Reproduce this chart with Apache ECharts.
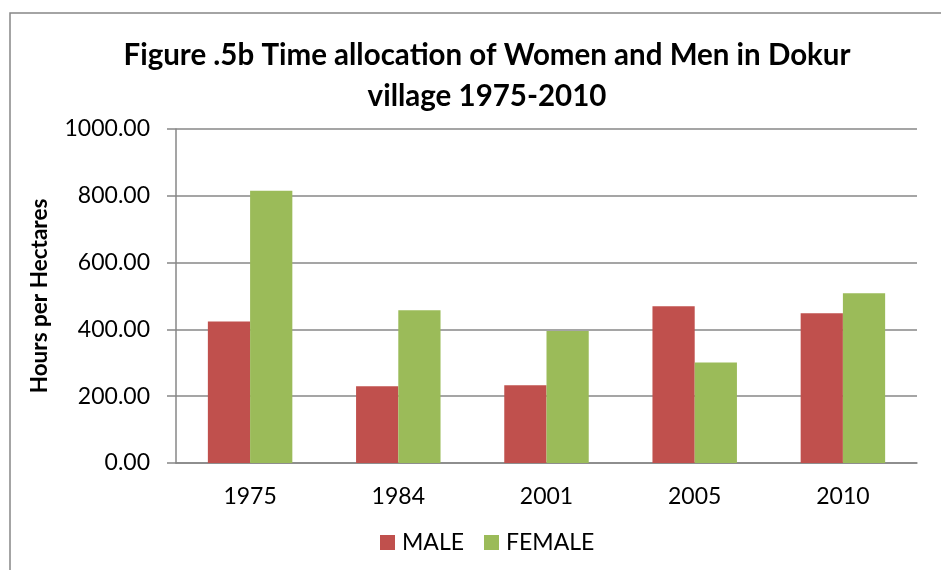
<!DOCTYPE html>
<html>
<head>
<meta charset="utf-8">
<script src="https://cdn.jsdelivr.net/npm/echarts@6/dist/echarts.min.js"></script>
<style>
  html, body { margin: 0; padding: 0; background: #fff; }
  #main { width: 941px; height: 570px; }
</style>
</head>
<body>
<div id="main"></div>
<script>
var years = ['1975', '1984', '2001', '2005', '2010'];
var maleHours = [424, 230, 233, 469, 448];
var femaleHours = [815, 457, 395, 301, 508];
var yTicks = [0, 200, 400, 600, 800, 1000];

var myChart = echarts.init(document.getElementById('main'));
var font = 'Lato, "Open Sans", sans-serif';
var gray = '#878787';

var option = {
    animation: false,
    color: ['#C0504D', '#9BBB59'],
    textStyle: { fontFamily: font },
    graphic: [{
        type: 'rect',
        shape: { x: 10, y: 13, width: 960, height: 600 },
        style: { fill: 'none', stroke: gray, lineWidth: 1.5 },
        silent: true
    }],
    title: {
        text: 'Figure .5b Time allocation of Women and Men in Dokur\nvillage 1975-2010',
        left: 482,
        top: 30,
        textAlign: 'center',
        textStyle: {
            fontFamily: font,
            fontSize: 29.5,
            fontWeight: 'bold',
            color: '#000',
            lineHeight: 41
        }
    },
    legend: {
        data: ['MALE', 'FEMALE'],
        left: 380,
        top: 531,
        padding: 0,
        itemWidth: 15,
        itemHeight: 15,
        itemGap: 20,
        icon: 'rect',
        textStyle: { fontFamily: font, fontSize: 23, color: '#000', padding: [0, 0, 0, 2] }
    },
    grid: { left: 176, right: 24, top: 129, bottom: 107 },
    xAxis: {
        type: 'category',
        data: years,
        axisLine: { lineStyle: { color: gray, width: 1.5 } },
        axisTick: { show: false },
        axisLabel: { fontFamily: font, fontSize: 23, color: '#000', margin: 22 }
    },
    yAxis: {
        type: 'value',
        min: yTicks[0],
        max: yTicks[yTicks.length - 1],
        interval: 200,
        name: 'Hours per Hectares',
        nameLocation: 'middle',
        nameGap: 125,
        nameTextStyle: { fontFamily: font, fontSize: 22.5, fontWeight: 'bold', color: '#000' },
        axisLine: { show: true, lineStyle: { color: gray, width: 1.5 } },
        axisTick: { show: true, length: 9, lineStyle: { color: gray, width: 1.5 } },
        splitLine: { lineStyle: { color: gray, width: 1.5 } },
        axisLabel: {
            fontFamily: font, fontSize: 23, color: '#000', margin: 26,
            formatter: function (v) { return v.toFixed(2); }
        }
    },
    series: [
        {
            name: 'MALE',
            type: 'bar',
            data: maleHours,
            barGap: '0%',
            barCategoryGap: '43%'
        },
        {
            name: 'FEMALE',
            type: 'bar',
            data: femaleHours
        }
    ]
};
myChart.setOption(option);
</script>
</body>
</html>
